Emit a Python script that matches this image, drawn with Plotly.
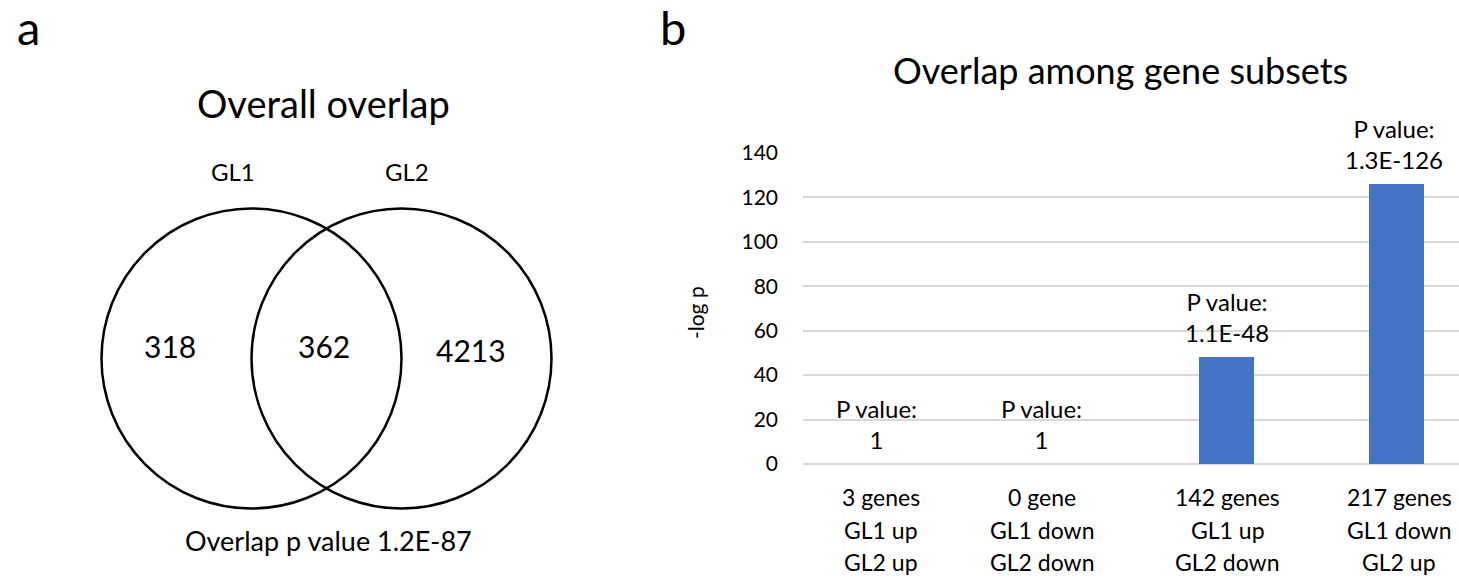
import plotly.graph_objects as go

# ---------------- data ----------------
venn_sets = ["GL1", "GL2"]
venn_counts = [318, 362, 4213]          # GL1 only, overlap, GL2 only
venn_pvalue = "1.2E-87"

gene_counts = ["3 genes", "0 gene", "142 genes", "217 genes"]
gl1_dir = ["GL1 up", "GL1 down", "GL1 up", "GL1 down"]
gl2_dir = ["GL2 up", "GL2 down", "GL2 down", "GL2 up"]
neg_log_p = [0, 0, 47.96, 125.89]
p_labels = ["1", "1", "1.1E-48", "1.3E-126"]

# ---------------- layout constants ----------------
W, H = 1459, 580
FONT = "Lato"
def px(x):
    return x / W
def py(y):
    return 1 - y / H

cat_x = list(range(len(gene_counts)))

fig = go.Figure()

fig.add_trace(go.Bar(
    x=cat_x, y=neg_log_p,
    marker=dict(color="#4472C4", line=dict(width=0)),
    width=0.325, xaxis="x", yaxis="y", showlegend=False, hoverinfo="skip",
))

def txt(x, y, text, size, xref="paper", yref="paper", **kw):
    d = dict(x=x, y=y, xref=xref, yref=yref, text=text, showarrow=False,
             xanchor="center", yanchor="middle",
             font=dict(family=FONT, size=size, color="black"))
    d.update(kw)
    return d

annotations = []
# bar data labels
label_xshift = [-11, -16, 0, -2]
for i, (v, lab) in enumerate(zip(neg_log_p, p_labels)):
    annotations.append(txt(i, v, f"P value:<br>{lab}", 24, xref="x", yref="y",
                           yanchor="bottom", yshift=8, xshift=label_xshift[i]))

# category labels (three lines each, drawn under the x axis)
cat_xshift = [-7, -15, 1, 3]
line_y = [497, 530, 562]
for i in cat_x:
    for yy, t in zip(line_y, (gene_counts[i], gl1_dir[i], gl2_dir[i])):
        annotations.append(txt(i, py(yy), t, 23, xref="x", yref="paper",
                               xshift=cat_xshift[i]))

# y axis title
annotations.append(txt(px(695), py(313), "-log p", 21, textangle=-90))
# panel b title
annotations.append(txt(px(1120), py(70), "Overlap among gene subsets", 36))
# panel letters
annotations.append(txt(px(28), py(27), "a", 47))
annotations.append(txt(px(673), py(27), "b", 47))

# Venn panel texts (x2/y2 are pixel-like coordinates of left panel)
annotations.append(txt(323, 103, "Overall overlap", 38, xref="x2", yref="y2"))
set_label_x = [233, 407]
for name, xx in zip(venn_sets, set_label_x):
    annotations.append(txt(xx, 171, name, 24, xref="x2", yref="y2"))
count_pos = [(170, 346), (324, 346), (471, 350)]
for c, (xx, yy) in zip(venn_counts, count_pos):
    annotations.append(txt(xx, yy, str(c), 30, xref="x2", yref="y2"))
annotations.append(txt(328, 540, f"Overlap p value {venn_pvalue}", 27, xref="x2", yref="y2"))

# Venn circles
circle_centers = [(251.5, 358.5), (401.5, 358.5)]
R = 150
shapes = []
for cx, cy in circle_centers:
    shapes.append(dict(type="circle", xref="x2", yref="y2",
                       x0=cx - R, x1=cx + R, y0=cy - R, y1=cy + R,
                       line=dict(color="black", width=2.5), fillcolor="rgba(0,0,0,0)"))

bar_left, bar_right = 803, 1459
slot = 169.5
x_hi = -0.5 + (bar_right - bar_left) / slot

fig.update_layout(
    width=W, height=H, autosize=False,
    margin=dict(l=0, r=0, t=0, b=0, pad=0),
    paper_bgcolor="white", plot_bgcolor="white",
    font=dict(family=FONT, color="black"),
    bargap=0,
    xaxis=dict(domain=[px(bar_left), 1.0], range=[-0.5, x_hi],
               showticklabels=False,
               showgrid=False, zeroline=False, showline=False, ticks="",
               fixedrange=True, automargin=False),
    yaxis=dict(domain=[py(464), py(153)], range=[0, 140], dtick=20,
               showgrid=True, gridcolor="#D9D9D9", gridwidth=1.5,
               zeroline=True, zerolinecolor="#D9D9D9", zerolinewidth=1.5,
               showline=False, ticks="", ticklabelstandoff=24,
               tickfont=dict(family=FONT, size=21, color="black"), fixedrange=True,
               automargin=False),
    xaxis2=dict(domain=[0, px(600)], range=[0, 600], visible=False, fixedrange=True,
                anchor="y2", automargin=False),
    yaxis2=dict(domain=[0, 1], range=[580, 0], visible=False, fixedrange=True,
                anchor="x2", automargin=False),
    annotations=annotations,
    shapes=shapes,
)

fig.write_html("out.html", config={"displayModeBar": False},
               post_script="document.body.style.margin='0';document.body.style.overflow='hidden';")
